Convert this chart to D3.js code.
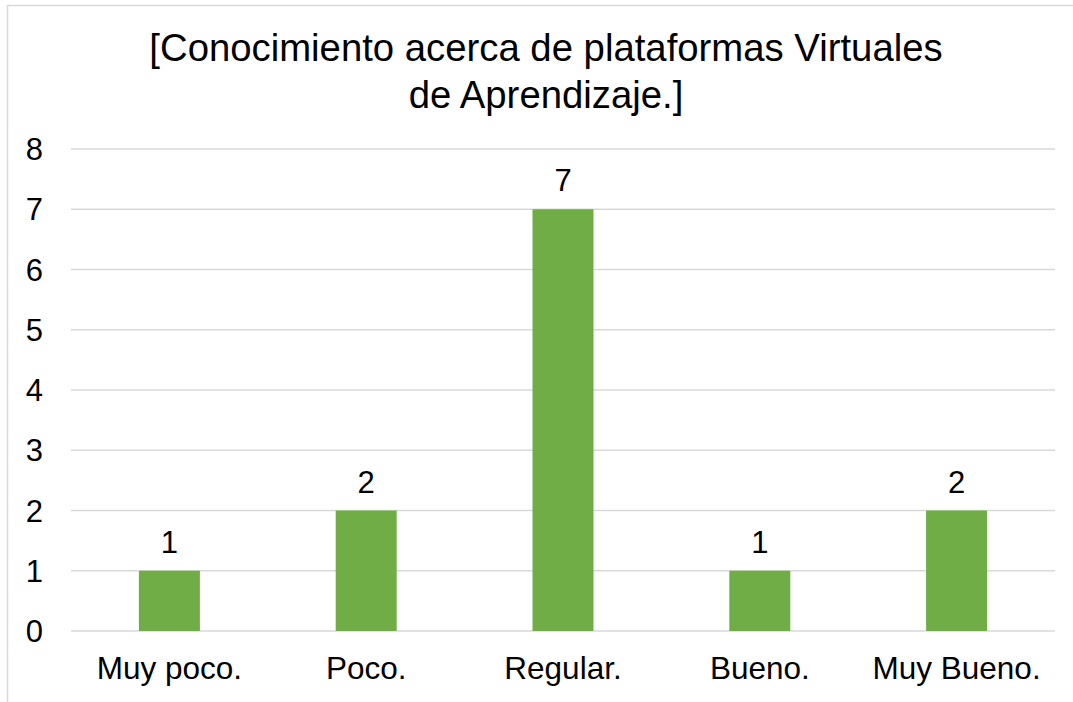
<!DOCTYPE html>
<html>
<head>
<meta charset="utf-8">
<script src="https://cdn.jsdelivr.net/npm/d3@7"></script>
<style>
  body { margin: 0; background: #fff; }
  text { font-family: "Liberation Sans", Arial, sans-serif; fill: #000; }
</style>
</head>
<body>
<div id="chart"></div>
<script>
// data
var categories = ["Muy poco.", "Poco.", "Regular.", "Bueno.", "Muy Bueno."];
var values = [1, 2, 7, 1, 2];
var yTicks = [0, 1, 2, 3, 4, 5, 6, 7, 8];
var titleLines = ["[Conocimiento acerca de plataformas Virtuales", "de Aprendizaje.]"];

var width = 1073, height = 702;

var svg = d3.select("#chart")
  .append("svg")
    .attr("width", width)
    .attr("height", height);

// chart area border (cropped on right and bottom)
svg.append("rect")
  .attr("x", 7.5).attr("y", 5.5)
  .attr("width", width + 20).attr("height", height + 20)
  .attr("fill", "none")
  .attr("stroke", "#d9d9d9")
  .attr("stroke-width", 1.5);

var x = d3.scaleBand()
  .domain(categories)
  .range([71, 1055])
  .paddingInner(0.69)
  .paddingOuter(0.345);

var y = d3.scaleLinear()
  .domain([0, 8])
  .range([631, 149]);

// gridlines
svg.append("g")
  .selectAll("line")
  .data(yTicks)
  .enter()
  .append("line")
    .attr("x1", 71).attr("x2", 1055)
    .attr("y1", function(d) { return y(d); })
    .attr("y2", function(d) { return y(d); })
    .attr("stroke", "#d9d9d9")
    .attr("stroke-width", 1.5);

// y tick labels
svg.append("g")
  .selectAll("text")
  .data(yTicks)
  .enter()
  .append("text")
    .attr("x", 43)
    .attr("y", function(d) { return y(d); })
    .attr("dy", "0.36em")
    .attr("text-anchor", "end")
    .style("font-size", "31px")
    .text(function(d) { return d; });

// bars
svg.append("g")
  .selectAll("rect")
  .data(values)
  .enter()
  .append("rect")
    .attr("x", function(d, i) { return x(categories[i]); })
    .attr("y", function(d) { return y(d); })
    .attr("width", x.bandwidth())
    .attr("height", function(d) { return y(0) - y(d); })
    .attr("fill", "#70ad47");

// data labels
svg.append("g")
  .selectAll("text")
  .data(values)
  .enter()
  .append("text")
    .attr("x", function(d, i) { return x(categories[i]) + x.bandwidth() / 2; })
    .attr("y", function(d) { return y(d) - 18; })
    .attr("text-anchor", "middle")
    .style("font-size", "31px")
    .text(function(d) { return d; });

// category labels
svg.append("g")
  .selectAll("text")
  .data(categories)
  .enter()
  .append("text")
    .attr("x", function(d) { return x(d) + x.bandwidth() / 2; })
    .attr("y", 679)
    .attr("text-anchor", "middle")
    .style("font-size", "31.5px")
    .text(function(d) { return d; });

// title
svg.append("text")
  .attr("x", 546)
  .attr("text-anchor", "middle")
  .style("font-size", "38.3px")
  .selectAll("tspan")
  .data(titleLines)
  .enter()
  .append("tspan")
    .attr("x", 546)
    .attr("y", function(d, i) { return 61 + i * 47; })
    .text(function(d) { return d; });
</script>
</body>
</html>
